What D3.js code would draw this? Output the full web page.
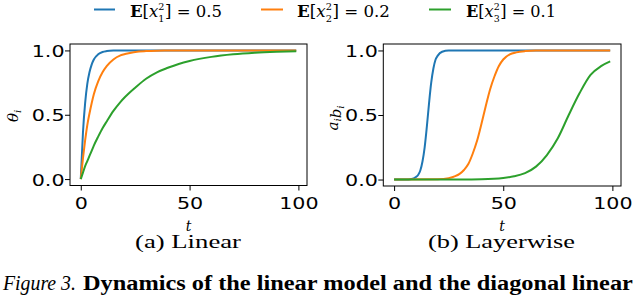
<!DOCTYPE html>
<html>
<head>
<meta charset="utf-8">
<script src="https://cdn.jsdelivr.net/npm/d3@7"></script>
<style>
  body { margin: 0; background: #fff; }
  svg { display: block; }
</style>
</head>
<body>
<div id="chart"></div>
<script>
// values
var seriesNames = ["1", "2", "3"];
var seriesValues = ["0.5", "0.2", "0.1"];
var colors = ["#1f77b4", "#ff7f0e", "#2ca02c"];
var xTicks = [0, 50, 100];
var yTicks = [0, 0.5, 1];

// (a) Linear
var linT = [0, 1, 2, 3, 4, 5, 6, 8, 10, 12, 15, 18, 20, 22, 25, 30, 35, 40, 45, 50, 60, 70, 80, 90, 99];
var linBlue = [0, 0.36, 0.59, 0.74, 0.83, 0.89, 0.93, 0.97, 0.988, 0.995, 0.999, 1, 1, 1, 1, 1, 1, 1, 1, 1, 1, 1, 1, 1, 1];
var linOrange = [0, 0.16, 0.30, 0.42, 0.51, 0.59, 0.66, 0.76, 0.83, 0.88, 0.93, 0.96, 0.97, 0.978, 0.988, 0.995, 0.998, 0.999, 1, 1, 1, 1, 1, 1, 1];
var linGreen = [0, 0.05, 0.10, 0.14, 0.18, 0.22, 0.26, 0.33, 0.395, 0.45, 0.53, 0.595, 0.632, 0.665, 0.71, 0.78, 0.83, 0.865, 0.895, 0.918, 0.95, 0.97, 0.982, 0.989, 0.993];

// (b) Layerwise
var layBlueT = [0, 5, 8, 10, 11, 12, 13, 14, 15, 16, 17, 18, 19, 20, 22, 25, 99];
var layBlue = [0, 0, 0.004, 0.02, 0.035, 0.07, 0.14, 0.25, 0.41, 0.59, 0.75, 0.86, 0.93, 0.96, 0.99, 1, 1];
var layOrangeT = [0, 20, 25, 28, 30, 32, 34, 36, 38, 40, 42, 44, 46, 48, 50, 53, 56, 60, 65, 99];
var layOrange = [0, 0.003, 0.011, 0.026, 0.044, 0.074, 0.12, 0.20, 0.30, 0.43, 0.57, 0.70, 0.80, 0.88, 0.93, 0.97, 0.985, 0.995, 1, 1];
var layGreenT = [0, 30, 40, 50, 55, 60, 65, 70, 75, 80, 85, 90, 95, 99];
var layGreen = [0, 0.001, 0.003, 0.012, 0.025, 0.05, 0.10, 0.19, 0.32, 0.50, 0.67, 0.81, 0.88, 0.915];

var svg = d3.select("#chart").append("svg").attr("width", 640).attr("height", 296);
svg.append("rect").attr("width", 640).attr("height", 296).attr("fill", "#fff");

// squeeze/stretch an element horizontally so it spans x0..x1
function fitX(sel, x0, x1) {
  var b = sel.node().getBBox();
  sel.attr("transform", "translate(" + x0 + ",0) scale(" + ((x1 - x0) / b.width) + ",1) translate(" + (-b.x) + ",0)");
}

function panel(left, right, top, bottom, series, yLabel, caption, capX0, capX1) {
  var x = d3.scaleLinear().domain([-4.95, 103.95]).range([left, right]);
  var y = d3.scaleLinear().domain([-0.05, 1.05]).range([bottom, top]);
  var g = svg.append("g");

  var line = d3.line()
    .x(function(d) { return x(d[0]); })
    .y(function(d) { return y(d[1]); })
    .curve(d3.curveMonotoneX);

  series.forEach(function(s, i) {
    g.append("path")
      .datum(d3.zip(s.t, s.v))
      .attr("d", line)
      .attr("fill", "none")
      .attr("stroke", colors[i])
      .attr("stroke-width", 2);
  });

  g.append("rect")
    .attr("x", left).attr("y", top)
    .attr("width", right - left).attr("height", bottom - top)
    .attr("fill", "none").attr("stroke", "#000").attr("stroke-width", 1);

  var xa = g.append("g").attr("transform", "translate(0," + bottom + ")")
    .call(d3.axisBottom(x).tickValues(xTicks).tickFormat(d3.format("d")).tickSize(5).tickPadding(6.5));
  var ya = g.append("g").attr("transform", "translate(" + left + ",0)")
    .call(d3.axisLeft(y).tickValues(yTicks).tickFormat(d3.format(".1f")).tickSize(5));

  [xa, ya].forEach(function(a) {
    a.select(".domain").remove();
    a.selectAll("line").attr("stroke", "#000");
    a.selectAll("text")
      .attr("fill", "#000")
      .style("font-family", "DejaVu Sans")
      .style("font-size", "16.5px");
  });
  xa.selectAll("text").attr("transform", "scale(1.25,1)");
  ya.selectAll("text").attr("x", 0).attr("dy", "0.36em").attr("transform", "translate(-5.5,0) scale(1.25,1)");

  // t label
  g.append("text")
    .attr("x", (left + right) / 2).attr("y", 230.5)
    .attr("text-anchor", "middle")
    .style("font-family", "DejaVu Serif").style("font-style", "italic").style("font-size", "14px")
    .text("t");

  // y label
  var yl = g.append("text")
    .attr("transform", "translate(" + yLabel.x + "," + yLabel.y + ") rotate(-90)")
    .attr("text-anchor", "middle")
    .style("font-family", "DejaVu Serif").style("font-style", "italic").style("font-size", "15px");
  yLabel.parts.forEach(function(p) {
    yl.append("tspan").text(p[0]);
    yl.append("tspan").attr("font-size", "10px").attr("dy", 3).text(p[1]);
    yl.append("tspan").attr("dy", -3).text("");
  });

  // sub caption
  var cg = svg.append("g");
  cg.append("text").attr("y", 248)
    .style("font-family", "Liberation Serif").style("font-size", "18px")
    .text(caption);
  fitX(cg, capX0, capX1);
}

panel(70, 307, 44, 185.5,
  [{t: linT, v: linBlue}, {t: linT, v: linOrange}, {t: linT, v: linGreen}],
  {x: 18, y: 116, parts: [["θ", "i"]]},
  "(a) Linear", 135, 241);

panel(383.3, 621, 44, 186,
  [{t: layBlueT, v: layBlue}, {t: layOrangeT, v: layOrange}, {t: layGreenT, v: layGreen}],
  {x: 338, y: 118, parts: [["a", "i"], ["b", "i"]]},
  "(b) Layerwise", 428, 575);

// legend
var legLines = [[94, 115], [261, 283], [429, 451]];
var legText = [[130, 222], [297, 390], [466, 556]];
seriesNames.forEach(function(n, i) {
  svg.append("line")
    .attr("x1", legLines[i][0]).attr("x2", legLines[i][1])
    .attr("y1", 9.5).attr("y2", 9.5)
    .attr("stroke", colors[i]).attr("stroke-width", 2);
  var lg = svg.append("g");
  var head = lg.append("text").attr("y", 17.3)
    .style("font-family", "DejaVu Serif").style("font-size", "17px");
  head.append("tspan").attr("font-weight", "bold").text("E");
  head.append("tspan").text("[");
  head.append("tspan").attr("font-style", "italic").text("x");
  var w = head.node().getComputedTextLength();
  lg.append("text").attr("x", w).attr("y", 9.8)
    .style("font-family", "DejaVu Serif").style("font-size", "10px").text("2");
  lg.append("text").attr("x", w).attr("y", 21.8)
    .style("font-family", "DejaVu Serif").style("font-size", "10px").text(n);
  lg.append("text").attr("x", w + 0.636 * 10 + 0.5).attr("y", 17.3)
    .style("font-family", "DejaVu Serif").style("font-size", "17px")
    .text("] = " + seriesValues[i]);
  fitX(lg, legText[i][0], legText[i][1]);
});

// figure caption
var c1 = svg.append("g");
c1.append("text").attr("y", 290)
  .style("font-family", "Liberation Serif").style("font-style", "italic").style("font-size", "20.5px")
  .text("Figure 3.");
fitX(c1, 2, 76);
var c2 = svg.append("g");
c2.append("text").attr("y", 290)
  .style("font-family", "Liberation Serif").style("font-weight", "bold").style("font-size", "20.5px")
  .text("Dynamics of the linear model and the diagonal linear");
fitX(c2, 83, 633);
</script>
</body>
</html>
